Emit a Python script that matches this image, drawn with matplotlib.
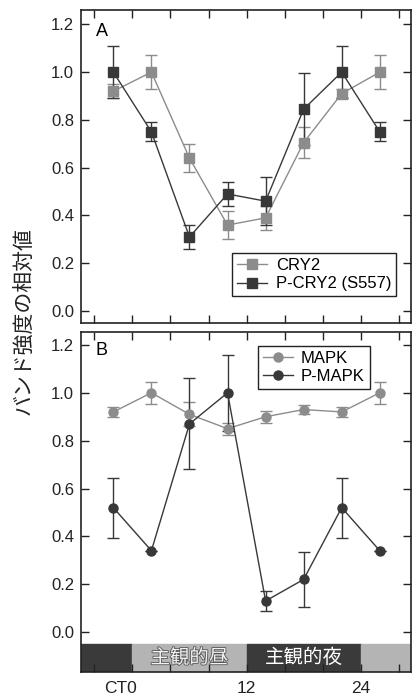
import matplotlib
matplotlib.use('Agg')
import matplotlib.pyplot as plt
import matplotlib.patheffects as pe
from matplotlib.lines import Line2D
from matplotlib.transforms import ScaledTranslation

plt.rcParams['font.family'] = ['Liberation Sans', 'Noto Sans CJK JP', 'DejaVu Sans']

# temps circadien (CT)
ct = [-2, 2, 6, 10, 14, 18, 22, 26]

# panneau A
cry2 = [0.92, 1.00, 0.64, 0.36, 0.39, 0.705, 0.91, 1.00]
cry2_err = [0.03, 0.07, 0.06, 0.06, 0.05, 0.065, 0.02, 0.07]
pcry2 = [1.00, 0.75, 0.31, 0.49, 0.46, 0.845, 1.00, 0.75]
pcry2_err = [0.11, 0.04, 0.05, 0.05, 0.10, 0.15, 0.11, 0.04]

# panneau B
mapk = [0.92, 1.00, 0.91, 0.85, 0.90, 0.93, 0.92, 1.00]
mapk_err = [0.02, 0.045, 0.05, 0.025, 0.025, 0.02, 0.02, 0.045]
pmapk = [0.52, 0.34, 0.87, 1.00, 0.13, 0.22, 0.52, 0.34]
pmapk_err = [0.125, 0.0, 0.19, 0.16, 0.04, 0.115, 0.125, 0.0]

# barre jour / nuit
bar_edges = [-5.4, 0, 12, 24, 29.3]
bar_colors = ['#3a3a3a', '#b4b4b4', '#3a3a3a', '#b4b4b4']
bar_labels = [('主観的昼', 6, '#f2f2f2'), ('主観的夜', 18, 'white')]

yticks = [0.0, 0.2, 0.4, 0.6, 0.8, 1.0, 1.2]
light = '#8c8c8c'
dark = '#383838'

fig = plt.figure(figsize=(4.12, 6.99), dpi=100)
axA = fig.add_axes([0.1966, 0.5379, 0.8014, 0.4478])
axB = fig.add_axes([0.1966, 0.0386, 0.8014, 0.4864])


def style(ax):
    ax.set_xlim(-5.4, 29.3)
    ax.set_xticks(range(-4, 29, 4))
    ax.set_yticks(yticks)
    ax.set_yticklabels(['%.1f' % v for v in yticks])
    ax.tick_params(direction='in', top=True, right=True, length=6, width=1,
                   labelsize=12, colors='#222222', pad=5)
    for s in ax.spines.values():
        s.set_linewidth(1.2)
        s.set_color('#222222')


def serie(ax, y, err, color, marker):
    ax.errorbar(ct, y, yerr=err, color=color, marker=marker, markersize=6.5,
                markeredgecolor=color, linewidth=1.0, elinewidth=1.0,
                capsize=4, capthick=1.0)
    return Line2D([], [], color=color, marker=marker, markersize=6.5,
                  markeredgecolor=color, linewidth=1.0)


def legende(ax, handles, labels, **kw):
    leg = ax.legend(handles, labels, fontsize=12, fancybox=False,
                    edgecolor='#222222', framealpha=1, handlelength=1.8,
                    borderpad=0.3, labelspacing=0.2, handletextpad=0.5,
                    borderaxespad=0, **kw)
    leg.get_frame().set_linewidth(1.0)


style(axA)
hA1 = serie(axA, cry2, cry2_err, light, 's')
hA2 = serie(axA, pcry2, pcry2_err, dark, 's')
axA.set_ylim(-0.05, 1.26)
axA.tick_params(labelbottom=False)
axA.text(0.045, 0.93, 'A', transform=axA.transAxes, fontsize=13, va='center')
legende(axA, [hA1, hA2], ['CRY2', 'P-CRY2 (S557)'], loc='lower right',
        bbox_to_anchor=(0.955, 0.085))

style(axB)
hB1 = serie(axB, mapk, mapk_err, light, 'o')
hB2 = serie(axB, pmapk, pmapk_err, dark, 'o')
axB.set_ylim(-0.167, 1.254)
axB.text(0.045, 0.945, 'B', transform=axB.transAxes, fontsize=13, va='center')
legende(axB, [hB1, hB2], ['MAPK', 'P-MAPK'], loc='upper left',
        bbox_to_anchor=(0.535, 0.96))

for i in range(len(bar_colors)):
    axB.axvspan(bar_edges[i], bar_edges[i + 1], ymin=0, ymax=0.082,
                color=bar_colors[i], zorder=0.5)
for txt, x, c in bar_labels:
    axB.text(x, -0.108, txt, ha='center', va='center', fontsize=14,
             color=c, family=['Noto Sans CJK JP', 'DejaVu Sans'],
             path_effects=[pe.withStroke(linewidth=1.2, foreground='#555555')] if c != 'white' else None)

axB.set_xticklabels([''] * 9)
for x, s, dx in [(0, 'CT0', -12), (12, '12', 0), (24, '24', 0)]:
    axB.text(x, -0.025, s, transform=axB.get_xaxis_transform() +
             ScaledTranslation(dx / 100, 0, fig.dpi_scale_trans),
             ha='center', va='top', fontsize=12.5, color='#222222')

fig.text(0.056, 0.54, 'バンド強度の相対値', rotation=90, ha='center', va='center',
         fontsize=15, family=['Noto Sans CJK JP', 'DejaVu Sans'], color='#222222')

fig.savefig('out.png', dpi=100)
